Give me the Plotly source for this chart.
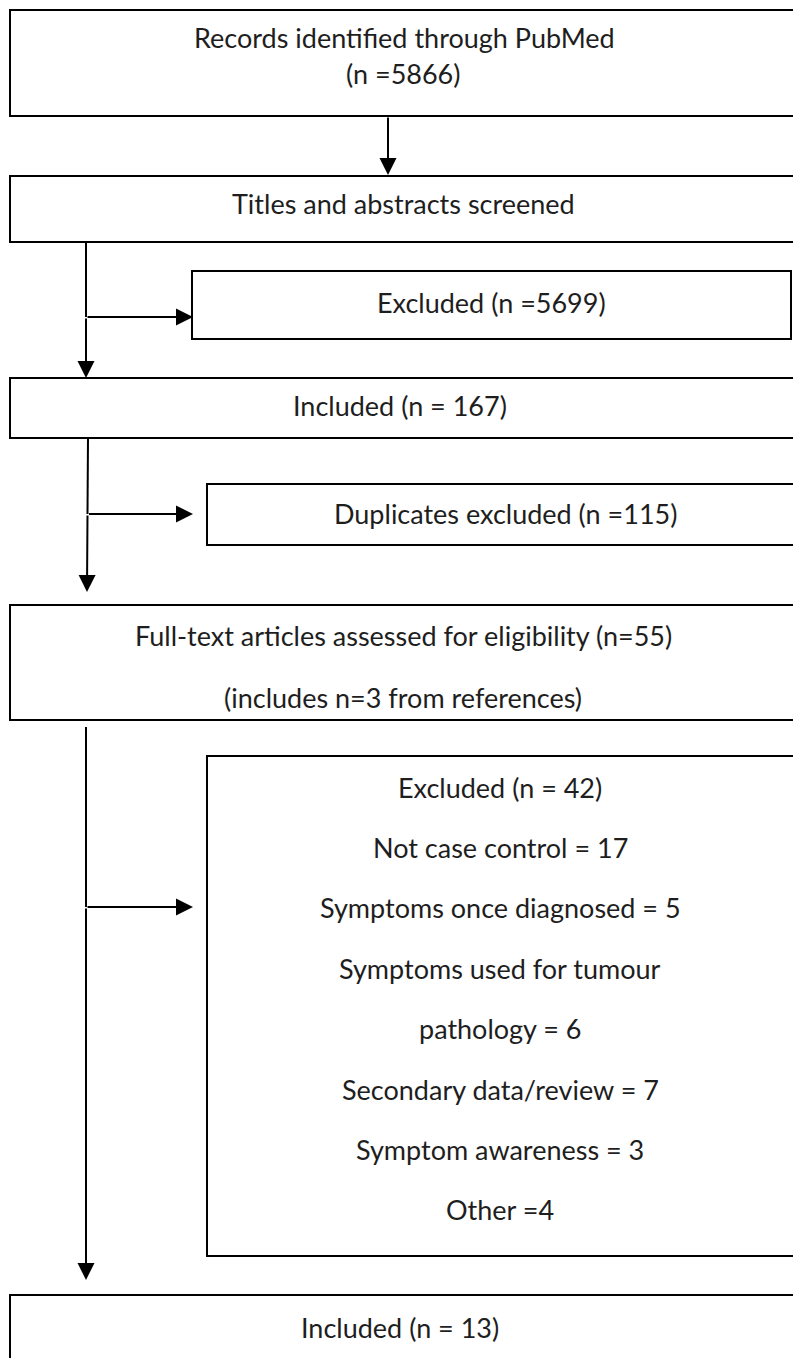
import plotly.graph_objects as go

# ---- data ----
n_identified = 5866
n_excluded_screen = 5699
n_included_screen = 167
n_duplicates = 115
n_fulltext = 55
n_from_refs = 3
n_excluded_full = 42
exclusion_reasons = ["Not case control", "Symptoms once diagnosed", "Symptoms used for tumour\npathology",
                     "Secondary data/review", "Symptom awareness", "Other"]
exclusion_counts = [17, 5, 6, 7, 3, 4]
n_final = 13

W, H = 793, 1358
FONT = "Lato"
FS = 27
TXT = "#1e1e1e"
LW = 2

fig = go.Figure()
fig.add_trace(go.Scatter(x=[0, W], y=[0, H], mode="markers", marker=dict(opacity=0),
                         hoverinfo="skip", showlegend=False))

def box(x0, y0, x1, y1):
    fig.add_shape(type="rect", x0=x0, y0=y0, x1=x1, y1=y1, xref="x", yref="y",
                  line=dict(color="black", width=LW), fillcolor="rgba(0,0,0,0)")

def text(x, y, s):
    fig.add_annotation(x=x, y=y, text=s, showarrow=False, xref="x", yref="y",
                       xanchor="center", yanchor="middle",
                       font=dict(family=FONT, size=FS, color=TXT))

def arrow(x0, y0, x1, y1):
    fig.add_annotation(x=x1, y=y1, ax=x0, ay=y0, xref="x", yref="y", axref="x", ayref="y",
                       text="", showarrow=True, arrowhead=2, arrowsize=1.7, arrowwidth=LW,
                       arrowcolor="black", standoff=0)

def line(x0, y0, x1, y1):
    fig.add_shape(type="line", x0=x0, y0=y0, x1=x1, y1=y1, xref="x", yref="y",
                  line=dict(color="black", width=LW))

# boxes
box(10, 10, 810, 116)
text(404, 37, "Records identified through PubMed")
text(403, 73, f"(n ={n_identified})")
arrow(388, 116, 388, 175)

box(10, 176, 810, 242)
text(403, 203, "Titles and abstracts screened")

line(86, 242, 86, 317)
arrow(86, 317, 86, 378)
arrow(86, 317, 193, 317)
box(192, 271, 791, 339)
text(491, 302, f"Excluded (n ={n_excluded_screen})")

box(10, 378, 810, 438)
text(400, 405, f"Included (n = {n_included_screen})")

line(88, 438, 87.5, 514)
arrow(87.5, 514, 87, 592)
arrow(87.5, 514, 193, 514)
box(207, 484, 810, 545)
text(505, 513, f"Duplicates excluded (n ={n_duplicates})")

box(10, 605, 810, 720)
text(403, 635, f"Full-text articles assessed for eligibility (n={n_fulltext})")
text(403, 697, f"(includes n={n_from_refs} from references)")

line(86, 727, 86, 907)
arrow(86, 907, 86, 1280)
arrow(86, 907, 193, 907)
box(207, 756, 810, 1256)
lines = [f"Excluded (n = {n_excluded_full})"]
for r, c in zip(exclusion_reasons, exclusion_counts):
    parts = r.split("\n")
    if r == "Other":
        lines.append(f"{r} ={c}")
    else:
        lines.extend(parts[:-1])
        lines.append(f"{parts[-1]} = {c}")
y = 787
for s in lines:
    text(500, y, s)
    y += 60.4

box(10, 1295, 810, 1420)
text(400, 1327, f"Included (n = {n_final})")

fig.update_layout(width=W, height=H, margin=dict(l=0, r=0, t=0, b=0),
                  paper_bgcolor="white", plot_bgcolor="white", showlegend=False,
                  xaxis=dict(range=[0, W], visible=False, fixedrange=True),
                  yaxis=dict(range=[H, 0], visible=False, fixedrange=True))
fig.write_html("out.html", config={"displayModeBar": False},
               post_script="document.body.style.margin='0';document.documentElement.style.overflow='hidden';")
